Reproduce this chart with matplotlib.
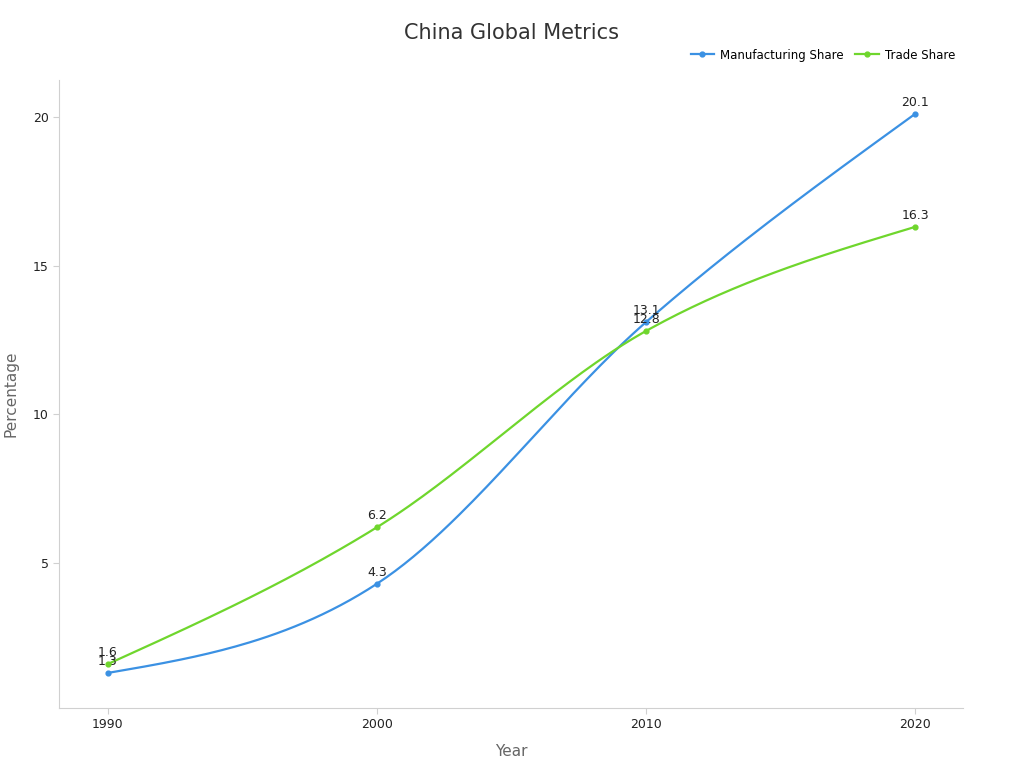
import numpy as np
import matplotlib
matplotlib.use("Agg")
import matplotlib.pyplot as plt

years = [1990, 2000, 2010, 2020]
manufacturing = [1.3, 4.3, 13.1, 20.1]
trade = [1.6, 6.2, 12.8, 16.3]
series = [("Manufacturing Share", manufacturing, "#3b91e3"),
          ("Trade Share", trade, "#6fd62d")]

def monotone(x, y, n=60):
    x = np.asarray(x, float); y = np.asarray(y, float)
    h = np.diff(x); d = np.diff(y) / h
    m = np.zeros(len(x))
    for i in range(1, len(x) - 1):
        if d[i-1] * d[i] <= 0:
            m[i] = 0
        else:
            p = (d[i-1] * h[i] + d[i] * h[i-1]) / (h[i-1] + h[i])
            m[i] = np.sign(p) * min(abs(p), 2*abs(d[i-1]), 2*abs(d[i]))
    m[0] = (3*d[0] - m[1]) / 2
    m[-1] = (3*d[-1] - m[-2]) / 2
    xs, ys = [], []
    for i in range(len(x) - 1):
        t = np.linspace(0, 1, n)
        h00 = 2*t**3 - 3*t**2 + 1; h10 = t**3 - 2*t**2 + t
        h01 = -2*t**3 + 3*t**2; h11 = t**3 - t**2
        xs.append(x[i] + t*h[i])
        ys.append(h00*y[i] + h10*h[i]*m[i] + h01*y[i+1] + h11*h[i]*m[i+1])
    return np.concatenate(xs), np.concatenate(ys)

fig = plt.figure(figsize=(10.24, 7.68), dpi=100)
ax = fig.add_axes([59/1024, 60/768, 904/1024, 628/768])
for name, vals, c in series:
    sx, sy = monotone(years, vals)
    ax.plot(sx, sy, color=c, lw=1.6)
    ax.scatter(years, vals, color=c, s=12, zorder=3)
    ax.plot([], [], color=c, marker='o', ms=3.5, lw=1.6, label=name)
    for xv, yv in zip(years, vals):
        ax.annotate(f"{yv}", (xv, yv), xytext=(0, 3.5), textcoords="offset points",
                    ha="center", va="bottom", fontsize=9, color="#222222")

ax.set_xlim(1988.18, 2021.78)
ax.set_ylim(0.12, 21.24)
ax.set_xticks(years)
ax.set_yticks([5, 10, 15, 20])
for s in ["top", "right"]:
    ax.spines[s].set_visible(False)
for s in ["left", "bottom"]:
    ax.spines[s].set_color("#d0d0d0")
ax.tick_params(colors="#222222", labelsize=9, length=4, color="#d0d0d0")
ax.set_xlabel("Year", fontsize=11, color="#666666", labelpad=9)
ax.set_ylabel("Percentage", fontsize=11, color="#666666", labelpad=10)
fig.text(0.5, 1 - 33/768, "China Global Metrics", ha="center", va="center",
         fontsize=15, color="#333333")
ax.legend(loc="upper right", bbox_to_anchor=(966/1024, 1 - 38/768),
          bbox_transform=fig.transFigure, frameon=False, ncol=2, fontsize=8.5,
          handlelength=2, columnspacing=1.0, handletextpad=0.5)
fig.savefig("out.png", dpi=100)
